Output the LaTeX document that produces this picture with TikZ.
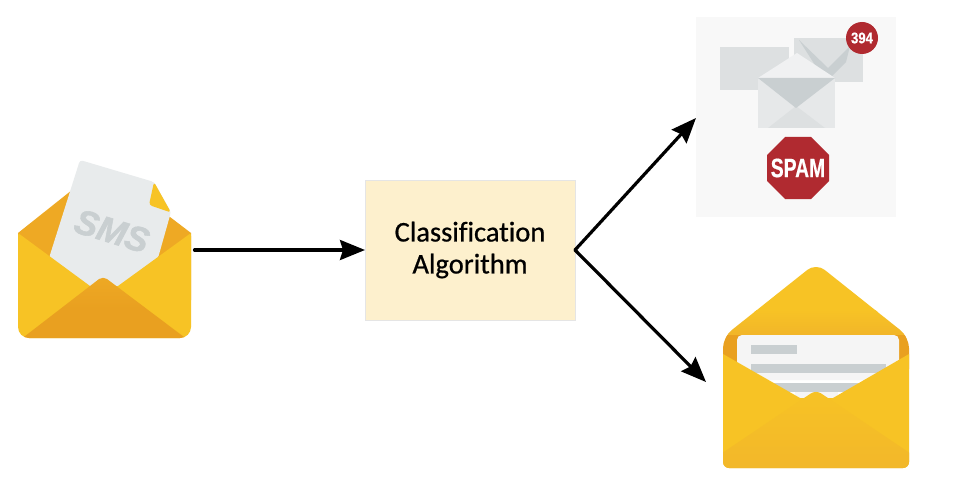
\documentclass[tikz,border=0pt]{standalone}
\usepackage{fontspec}
\usepackage{graphicx}
\setmainfont[Ligatures=NoCommon]{Carlito}
\newfontfamily\algofont[Ligatures=NoCommon,FakeBold=0.7]{Carlito}
\newfontfamily\signfont[UprightFont={* Bold},ItalicFont={* Bold Italic},FakeBold=0.5]{Liberation Sans}
\newfontfamily\smsfont[UprightFont={* Bold},ItalicFont={* Bold Italic},FakeBold=1.5]{Liberation Sans}
\usetikzlibrary{arrows.meta}
\definecolor{envY}{HTML}{F7C325}
\definecolor{envO}{HTML}{E9A020}
\definecolor{envD}{HTML}{EEA924}
\definecolor{envB}{HTML}{F2B72A}
\definecolor{paperG}{HTML}{E8EBEC}
\definecolor{greyS}{HTML}{C9CFD1}
\definecolor{ditherG}{HTML}{DDE0E1}
\definecolor{ditherL}{HTML}{E6E8E9}
\definecolor{spamR}{HTML}{B02A30}
\definecolor{algoBg}{HTML}{FDF0CD}
\definecolor{panelG}{HTML}{F8F8F8}
\tikzset{
  x=1pt,y=-1pt,
  flow/.style={-{Stealth[length=25pt,width=20pt,inset=3pt]},line width=3.2pt,line cap=round,black},
  signtext/.style={text=white,inner sep=0pt},
}
\begin{document}
\begin{tikzpicture}
\useasboundingbox (0,0) rectangle (966,500);
\fill[white] (0,0) rectangle (966,500);

% ---- left envelope
\fill[envD] (18,233) -- (72,190) -- (170,217) -- (191,233) -- (191,300) -- (18,300) -- cycle;
\fill[paperG,rounded corners=3pt] (80,160) -- (154,182) -- (171,212) -- (158,258) -- (118,292) -- (90,292) -- (49,258) -- cycle;
\fill[envY,rounded corners=3pt] (154,182) -- (171,212.5) -- (149,205) -- cycle;
\node[rotate=-17,text=greyS,inner sep=0pt,font=\smsfont\itshape\fontsize{35}{35}\selectfont] (smslabel) at (112,231) {SMS};
\begin{scope}
  \clip[rounded corners=11pt] (18,225) -- (18,338) -- (191,338) -- (191,225) -- cycle;
  \fill[envY] (18,233) -- (90,286) -- (118,286) -- (191,233) -- (191,338) -- (18,338) -- cycle;
  \shade[top color=envD,bottom color=envO,middle color=envO,rounded corners=5pt] (103,276) -- (20,340) -- (188,340) -- cycle;
\end{scope}

% ---- classification box
\node[draw=black!10,line width=.5pt,fill=algoBg,minimum width=210pt,minimum height=140pt,inner sep=0pt,outer sep=0pt,align=center,text=black,font=\algofont\fontsize{28.5}{32}\selectfont] (algo) at (470,250) {Classification\\Algorithm};

% ---- spam panel
\node[fill=panelG,minimum width=200pt,minimum height=200pt,inner sep=0pt,outer sep=0pt] (spam) at (796,117) {};
\fill[ditherG] (720,47) rectangle (789,90);
\fill[ditherG] (794,38) rectangle (863,82);
\fill[greyS] (799,40) -- (828,68) -- (850,46) -- (846,62) -- (830,78) -- (822,76) -- cycle;
\fill[ditherL!60!white] (758,78) -- (797,53) -- (835,78) -- cycle;
\fill[ditherL] (758,78) rectangle (835,128);
\fill[ditherG] (768,128) -- (796,106) -- (825,128) -- cycle;
\fill[greyS] (758,78) -- (835,78) -- (796,108) -- cycle;
\fill[spamR] (862,38) circle (16);
\node[signtext,font=\signfont\fontsize{15.5}{15.5}\selectfont] (badge) at (862,38) {\scalebox{.85}[1]{394}};
\fill[spamR] (785,137) -- (811,137) -- (829,155) -- (829,181) -- (811,199) -- (785,199) -- (767,181) -- (767,155) -- cycle;
\node[signtext,font=\signfont\fontsize{26.5}{26.5}\selectfont] (spamword) at (798,168) {\scalebox{.73}[1]{SPAM}};

% ---- good envelope
\begin{scope}
  \clip[rounded corners=11pt] (723,380) -- (723,337) -- (816,263) -- (909,337) -- (909,380) -- cycle;
  \fill[envY] (715,255) rectangle (920,312);
  \shade[top color=envY,bottom color=envB!90!envO] (715,310) rectangle (920,336);
  \fill[envO] (715,335) rectangle (920,370);
\end{scope}
\fill[black!4,rounded corners=5pt] (737,335) -- (899,335) -- (899,380) -- (737,380) -- cycle;
\fill[greyS] (751,345) rectangle (797,354);
\fill[greyS] (751,364) rectangle (886,373);
\fill[greyS] (751,383) rectangle (858,392);
\fill[black!4] (795,392) rectangle (838,400);
\begin{scope}
  \clip[rounded corners=6pt] (723,320) -- (909,320) -- (909,468) -- (723,468) -- cycle;
  \fill[envY] (723,354) -- (800,398) -- (833,398) -- (909,354) -- (909,468) -- (723,468) -- cycle;
  \shade[top color=envY,bottom color=envB,rounded corners=6pt] (816,390) -- (697,470) -- (935,470) -- cycle;
\end{scope}

% ---- connectors
\node[minimum width=178pt,minimum height=175pt,inner sep=0pt,outer sep=0pt] (sms) at (105.5,250) {};
\coordinate (spamtip) at (696,118);
\coordinate (hamtip) at (706,382);
\draw[flow] (sms.east) -- (algo.west);
\draw[flow] (algo.east) -- (spamtip);
\draw[flow] (algo.east) -- (hamtip);
\end{tikzpicture}
\end{document}
